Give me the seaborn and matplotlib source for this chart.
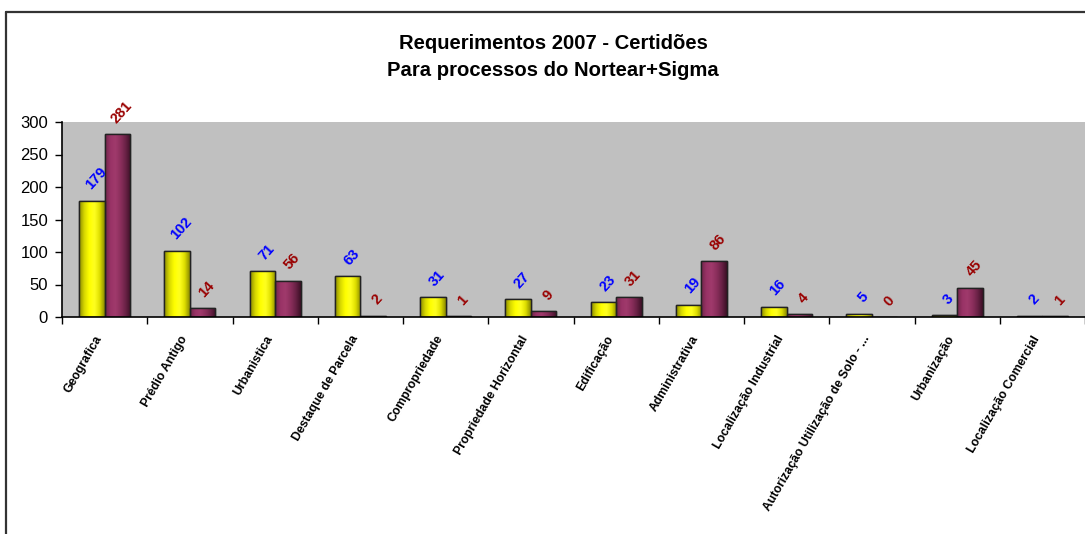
import numpy as np
import pandas as pd
import matplotlib
matplotlib.use("Agg")
import matplotlib.pyplot as plt
import matplotlib.colors as mcolors
import matplotlib.transforms as mtransforms
from matplotlib.patches import Rectangle
import seaborn as sns

categories = ["Geografica", "Prédio Antigo", "Urbanistica", "Destaque de Parcela",
              "Compropriedade", "Propriedade Horizontal", "Edificação", "Administrativa",
              "Localização Industrial", "Autorização Utilização de Solo - ...",
              "Urbanização", "Localização Comercial"]
serie_a = [179, 102, 71, 63, 31, 27, 23, 19, 16, 5, 3, 2]
serie_b = [281, 14, 56, 2, 1, 9, 31, 86, 4, 0, 45, 1]
series_names = ["A", "B"]
y_ticks = [0, 50, 100, 150, 200, 250, 300]
title = "Requerimentos 2007 - Certidões\nPara processos do Nortear+Sigma"

df = pd.DataFrame({
    "cat": categories * 2,
    "val": serie_a + serie_b,
    "serie": [series_names[0]] * len(categories) + [series_names[1]] * len(categories),
})

sns.set_theme(style="white")
plt.rcParams["font.family"] = ["Liberation Sans", "DejaVu Sans"]
plt.rcParams["text.color"] = "black"
plt.rcParams["xtick.color"] = "black"
plt.rcParams["ytick.color"] = "black"
plt.rcParams["axes.labelcolor"] = "black"

fig = plt.figure(figsize=(10.85, 5.34), dpi=100)
ax = fig.add_axes([62 / 1085, 1 - 317 / 534, 1 - 62 / 1085, (317 - 122) / 534])
ax.set_facecolor("#C0C0C0")

sns.barplot(data=df, x="cat", y="val", hue="serie", order=categories,
            hue_order=series_names, palette=["#FFFF00", "#993366"], width=0.6,
            edgecolor="#222222", linewidth=1.0, saturation=1, legend=False, ax=ax)

cmap_a = mcolors.LinearSegmentedColormap.from_list(
    "ya", ["#8A8A00", "#D8D800", "#FFFF00", "#FFFF20", "#E0E000", "#8A8A00"])
cmap_b = mcolors.LinearSegmentedColormap.from_list(
    "mb", ["#6E2548", "#993366", "#A03A6C", "#8C2F5D", "#6A2246", "#3C1026"])
grad = np.linspace(0, 1, 64).reshape(1, -1)

n = len(categories)
patches = list(ax.patches)
for i, p in enumerate(patches):
    h = p.get_height()
    if h <= 0:
        continue
    cm = cmap_a if i < n else cmap_b
    x0, w = p.get_x(), p.get_width()
    im = ax.imshow(grad, cmap=cm, aspect="auto", extent=(x0, x0 + w, 0, h),
                   zorder=p.get_zorder() + 0.1, interpolation="bicubic")
    im.set_clip_path(p)
    ax.add_patch(Rectangle((x0, 0), w, h, fill=False, edgecolor="#222222",
                           linewidth=1.0, zorder=p.get_zorder() + 0.2))
ax.set_xlim(-0.5, n - 0.5)
ax.set_ylim(0, 300)

# value labels
for i, p in enumerate(patches):
    cx = p.get_x() + p.get_width() / 2
    val = serie_a[i] if i < n else serie_b[i - n]
    col = "#0000FF" if i < n else "#990000"
    ax.annotate(str(val), (cx, val), xytext=(3, 6), textcoords="offset points",
                ha="center", va="bottom", rotation=48, fontsize=10.5,
                fontweight="bold", color=col, annotation_clip=False, zorder=10)

ax.set_yticks(y_ticks)
ax.tick_params(axis="y", labelsize=12, length=5, width=1, direction="out",
               left=True, color="black", pad=5, labelcolor="black")
ax.set_xticks(range(n))
ax.set_xticklabels(categories, rotation=60, ha="right", va="center",
                   rotation_mode="anchor", fontsize=8.8, fontweight="bold",
                   color="black")
ax.tick_params(axis="x", length=0, pad=14)
offset = mtransforms.ScaledTranslation(-5 / 100, 0, fig.dpi_scale_trans)
for lab in ax.get_xticklabels():
    lab.set_transform(lab.get_transform() + offset)
ax.set_xticks(np.arange(-0.5, n, 1.0), minor=True)
ax.tick_params(axis="x", which="minor", length=5, width=1, direction="out",
               bottom=True, color="black")
ax.set_xlabel("")
ax.set_ylabel("")
for s in ["top", "right"]:
    ax.spines[s].set_visible(False)
for s in ["left", "bottom"]:
    ax.spines[s].set_color("black")
    ax.spines[s].set_linewidth(1.2)

fig.text(553 / 1085, 1 - 57 / 534, title, ha="center", va="center",
         fontsize=14.6, fontweight="bold", linespacing=1.55, color="black")

# outer frame lines
fig.add_artist(plt.Line2D([6 / 1085, 1.0], [1 - 12 / 534, 1 - 12 / 534],
                          color="#333333", linewidth=1.6))
fig.add_artist(plt.Line2D([6 / 1085, 6 / 1085], [0, 1 - 12 / 534],
                          color="#333333", linewidth=1.6))

fig.savefig("out.png", dpi=100)
